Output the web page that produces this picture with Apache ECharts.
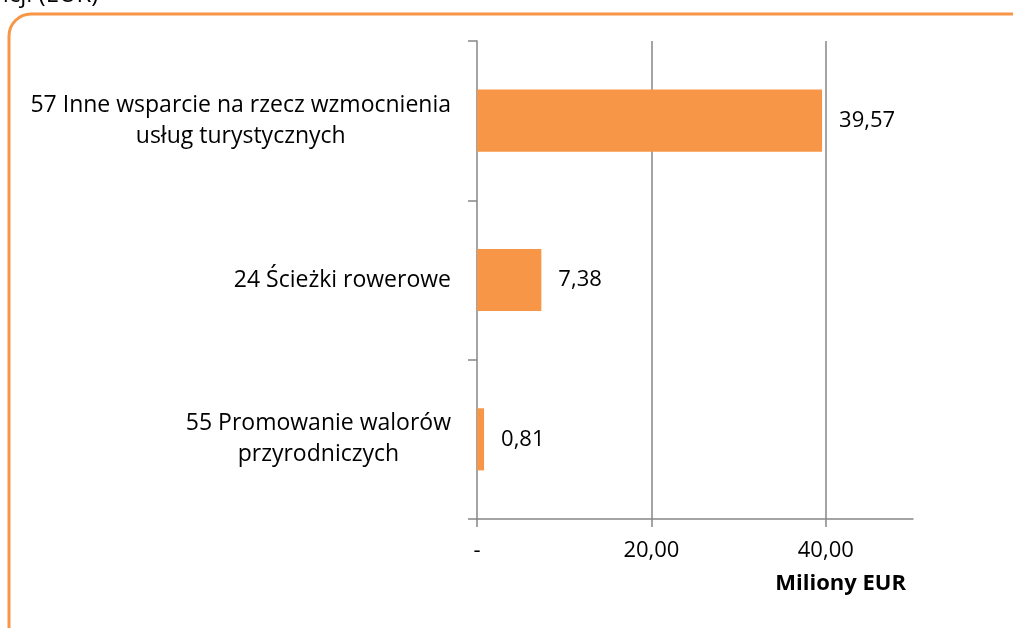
<!DOCTYPE html>
<html>
<head>
<meta charset="utf-8">
<script src="https://cdn.jsdelivr.net/npm/echarts@6/dist/echarts.min.js"></script>
<style>
  html, body { margin: 0; padding: 0; background: #fff; }
  #chart { width: 1013px; height: 628px; }
</style>
</head>
<body>
<div id="chart"></div>
<script>
// kategorie i wartości (mln EUR)
const categories = [
  '57 Inne wsparcie na rzecz wzmocnienia\nusług turystycznych',
  '24 Ścieżki rowerowe',
  '55 Promowanie walorów\nprzyrodniczych'
];
const values = [39.57, 7.38, 0.81];
const axisMax = 50;
const axisStep = 20;

const FONT = '"Open Sans"';
const fmt = v => v.toFixed(2).replace('.', ',');

const chart = echarts.init(document.getElementById('chart'));

chart.setOption({
  animation: false,
  grid: { left: 477, right: 100, top: 41, bottom: 109 },
  graphic: [
    {
      type: 'rect',
      shape: { x: 9, y: 14, width: 1040, height: 660, r: 22 },
      style: { fill: 'none', stroke: '#F79646', lineWidth: 3 }
    },
    {
      type: 'text',
      left: -6, top: -17,
      style: { text: 'ncji (EUR)', font: '24px ' + FONT, fill: '#000' }
    },
    {
      type: 'text',
      right: 107, top: 573,
      style: { text: 'Miliony EUR', font: 'bold 22px ' + FONT, fill: '#000' }
    }
  ],
  xAxis: {
    type: 'value',
    min: 0,
    max: axisMax,
    interval: axisStep,
    axisLine: { show: true, lineStyle: { color: '#868686', width: 1.5 } },
    axisTick: { show: true, length: 8, lineStyle: { color: '#868686', width: 1.5 } },
    axisLabel: {
      showMaxLabel: false,
      margin: 21,
      fontFamily: FONT, fontSize: 22, color: '#000',
      formatter: v => (v === 0 ? '-' : fmt(v))
    },
    splitLine: { show: true, showMinLine: false, showMaxLine: false, lineStyle: { color: '#868686', width: 1.5 } }
  },
  yAxis: {
    type: 'category',
    inverse: true,
    data: categories,
    axisLine: { show: true, lineStyle: { color: '#868686', width: 1.5 } },
    axisTick: { show: true, length: 9, lineStyle: { color: '#868686', width: 1.5 } },
    axisLabel: {
      margin: 26,
      align: 'right',
      formatter: v => v.split('\n').map(s => '{c|' + s + '}').join('\n'),
      rich: {
        c: { align: 'center', fontFamily: FONT, fontSize: 23, color: '#000', lineHeight: 31 }
      }
    }
  },
  series: [{
    type: 'bar',
    data: values,
    barWidth: '39%',
    itemStyle: { color: '#F79646' },
    label: {
      show: true,
      position: 'right',
      distance: 17,
      fontFamily: FONT, fontSize: 22, color: '#000',
      formatter: p => fmt(p.value)
    }
  }]
});
</script>
</body>
</html>
